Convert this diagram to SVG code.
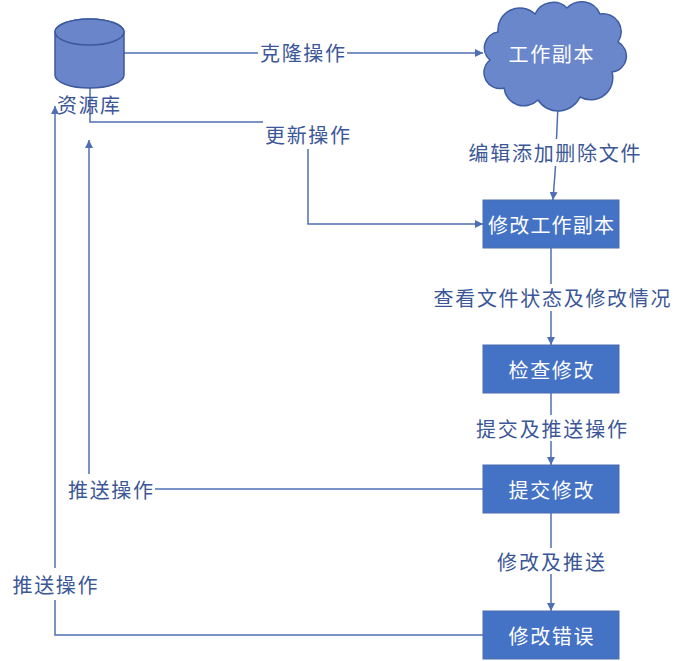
<svg xmlns="http://www.w3.org/2000/svg" width="677" height="661" viewBox="0 0 677 661">
<style>
  .ln { fill: none; stroke: #4f6fb3; stroke-width: 1.5; }
  .lbl { font-family: "Noto Sans CJK SC", "Noto Sans", sans-serif; font-size: 20px; fill: #3b5797; text-anchor: middle; dominant-baseline: central; }
  .wt { font-family: "Noto Sans CJK SC", "Noto Sans", sans-serif; font-size: 20px; fill: #ffffff; text-anchor: middle; dominant-baseline: central; }
  .box { fill: #4472c4; stroke: #4a6db0; stroke-width: 1; }
</style>
<defs>
  <marker id="arr" viewBox="0 0 10 10" refX="10" refY="5" markerWidth="8" markerHeight="8" markerUnits="userSpaceOnUse" orient="auto">
    <path d="M0,0 L10,5 L0,10 Z" fill="#4f6fb3"/>
  </marker>
</defs>
<rect width="677" height="661" fill="#ffffff"/>

<g id="connectors">
  <!-- clone -->
  <line class="ln" x1="124" y1="53" x2="258" y2="53"/>
  <line class="ln" x1="347" y1="53" x2="483" y2="53" marker-end="url(#arr)"/>
  <!-- update -->
  <polyline class="ln" points="90,88 90,122 263,122"/>
  <polyline class="ln" points="308,149 308,224 483,224" marker-end="url(#arr)"/>
  <!-- cloud to box1 -->
  <line class="ln" x1="558" y1="105" x2="556.5" y2="139"/>
  <line class="ln" x1="555.5" y1="166" x2="553" y2="200" marker-end="url(#arr)"/>
  <!-- box1 to box2 -->
  <line class="ln" x1="551" y1="248" x2="551" y2="284"/>
  <line class="ln" x1="551" y1="311" x2="551" y2="345" marker-end="url(#arr)"/>
  <!-- box2 to box3 -->
  <line class="ln" x1="551" y1="393" x2="551" y2="415"/>
  <line class="ln" x1="551" y1="441" x2="551" y2="465" marker-end="url(#arr)"/>
  <!-- box3 to box4 -->
  <line class="ln" x1="551" y1="513" x2="551" y2="548"/>
  <line class="ln" x1="551" y1="574" x2="551" y2="611" marker-end="url(#arr)"/>
  <!-- box3 push -->
  <line class="ln" x1="483" y1="489" x2="155" y2="489"/>
  <line class="ln" x1="89" y1="474" x2="89" y2="140" marker-end="url(#arr)"/>
  <!-- box4 push -->
  <polyline class="ln" points="483,635 55,635 55,600"/>
  <line class="ln" x1="55" y1="568" x2="55" y2="106" marker-end="url(#arr)"/>
</g>

<g id="repo">
  <path d="M55,32 L55,75 A34.5,13 0 0 0 124,75 L124,32 A34.5,13 0 0 0 55,32 Z" fill="#6a85c9" stroke="#3d5a9e" stroke-width="1.5"/>
  <ellipse cx="89.5" cy="32" rx="34.5" ry="13" fill="#6a85c9" stroke="#3d5a9e" stroke-width="1.5"/>
  <text class="lbl" x="88.5" y="104" textLength="63">资源库</text>
</g>

<g id="working-copy">
  <path d="M490,60 A16,16 0 0 1 498,32 A22,22 0 0 1 535,14 A20,20 0 0 1 567,8 A20,20 0 0 1 600,14 A18,18 0 0 1 618,42 A16,16 0 0 1 612,72 A22,22 0 0 1 580,97 A24,24 0 0 1 538,100 A20,20 0 0 1 504,88 A16,16 0 0 1 490,60 Z" fill="#6a87cb" stroke="#3e5da3" stroke-width="1.5"/>
  <text class="wt" x="551" y="53" textLength="85">工作副本</text>
</g>

<g id="modify-copy">
  <rect class="box" x="483" y="200" width="136" height="48"/>
  <text class="wt" x="551" y="224" textLength="126">修改工作副本</text>
</g>

<g id="check">
  <rect class="box" x="483" y="345" width="136" height="48"/>
  <text class="wt" x="551" y="369" textLength="85">检查修改</text>
</g>

<g id="commit">
  <rect class="box" x="483" y="465" width="136" height="48"/>
  <text class="wt" x="551" y="489" textLength="85">提交修改</text>
</g>

<g id="fix">
  <rect class="box" x="483" y="611" width="136" height="48"/>
  <text class="wt" x="551" y="635" textLength="85">修改错误</text>
</g>

<g id="labels">
  <text class="lbl" x="302.5" y="52" textLength="85">克隆操作</text>
  <text class="lbl" x="307.5" y="134" textLength="85">更新操作</text>
  <text class="lbl" x="554.5" y="152" textLength="172">编辑添加删除文件</text>
  <text class="lbl" x="552" y="297" textLength="237">查看文件状态及修改情况</text>
  <text class="lbl" x="551.5" y="428" textLength="151">提交及推送操作</text>
  <text class="lbl" x="551" y="561" textLength="108">修改及推送</text>
  <text class="lbl" x="110.5" y="489" textLength="85">推送操作</text>
  <text class="lbl" x="55" y="584" textLength="85">推送操作</text>
</g>
</svg>
